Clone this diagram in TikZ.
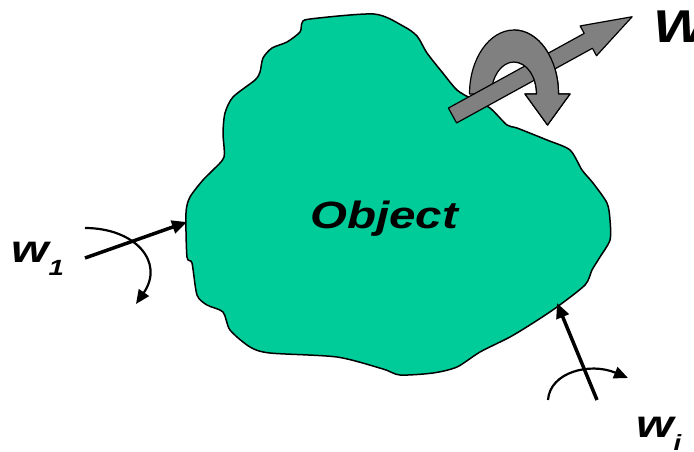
\documentclass[tikz,border=0pt]{standalone}
\usepackage{fontspec}
\setmainfont{Liberation Sans}
\usetikzlibrary{arrows.meta}
\definecolor{objgreen}{HTML}{00CC99}
\definecolor{arrowgray}{HTML}{808080}
% small lowered index for the force labels
\newcommand{\lowidx}[1]{\raisebox{-13pt}{\fontsize{22}{22}\selectfont #1}}
% the curved moment arrow wrapped round the resultant
\newcommand{\twistpath}{(469.5,94) arc[start angle=180,end angle=0,x radius=44.5pt,y radius=64pt]
  -- (570,94) -- (547.5,125) -- (525,94) -- (536.5,94)
  arc[start angle=0,end angle=180,x radius=22.5pt,y radius=32pt] -- cycle}
\begin{document}
\begin{tikzpicture}[x=1pt,y=-1pt,line join=round,
	blob/.style={fill=objgreen,draw=black,line width=1.5pt},
	torque/.style={fill=arrowgray,draw=black,line width=1.2pt},
	force/.style={line width=3.5pt,-{Triangle[length=15pt,width=13pt]}},
	moment/.style={line width=2.2pt,-{Triangle[length=14pt,width=12pt]}},
	lbl/.style={inner sep=0pt,font=\bfseries\itshape,xscale=1.25,transform shape}]
	\useasboundingbox (0,0) rectangle (694,451);
	% the object
	\draw[blob] plot[smooth cycle,tension=0.45] coordinates {
		(374,14) (403,26) (417,36) (427,53) (442,72) (457,90) (472,99) (490,108)
		(507,125) (517,128) (547,140) (570,150) (582,170) (593,183) (607,203)
		(610,220) (610,240) (600,257) (592,270) (585,285) (557,307) (533,323)
		(510,337) (480,352) (457,367) (433,373) (400,375) (383,369) (337,357)
		(270,353) (250,347) (230,330) (223,312) (207,305) (197,295) (192,263)
		(187,257) (186,213) (190,197) (203,180) (213,170) (224,157) (223,133)
		(225,113) (233,97) (255,80) (260,72) (263,58) (272,48) (287,42)
		(300,32) (302,23) (310,19)};
	\node[lbl,anchor=base,font=\bfseries\itshape\fontsize{38}{44}\selectfont] (obj) at (384,228.5) {Object};
	% resultant force and moment
	\filldraw[torque] \twistpath;
	\begin{scope}[shift={(452.5,115.5)},rotate=28.8]
		\filldraw[torque] (0,-8.5) -- (155,-8.5) -- (155,-17) -- (205,0) -- (155,17) -- (155,8.5) -- (0,8.5) -- cycle;
	\end{scope}
	\begin{scope}
		\clip (514,0) rectangle (600,140);
		\filldraw[torque] \twistpath;
	\end{scope}
	\node[lbl,anchor=base west,font=\bfseries\itshape\fontsize{46}{52}\selectfont] (W) at (653,42) {W};
	% applied force w1
	\coordinate (a1) at (187,222);
	\coordinate (t1) at (85,258);
	\coordinate (m1) at (85,228);
	\coordinate (n1) at (136,304);
	\draw[force] (t1) -- (a1);
	\draw[moment] (m1) .. controls (135,228) and (165,262) .. (n1);
	\node[lbl,anchor=base west,font=\bfseries\itshape\fontsize{38.5}{44}\selectfont] (w1) at (11,262) {w\lowidx{1}};
	% applied force wi
	\coordinate (ai) at (557,303);
	\coordinate (ti) at (597,400);
	\coordinate (mi) at (548,400);
	\coordinate (ni) at (628,378);
	\draw[force] (ti) -- (ai);
	\draw[moment] (mi) .. controls (550,372) and (590,362) .. (ni);
	\node[lbl,anchor=base west,font=\bfseries\itshape\fontsize{38.5}{44}\selectfont] (wi) at (636,437) {w\lowidx{i}};
\end{tikzpicture}
\end{document}
